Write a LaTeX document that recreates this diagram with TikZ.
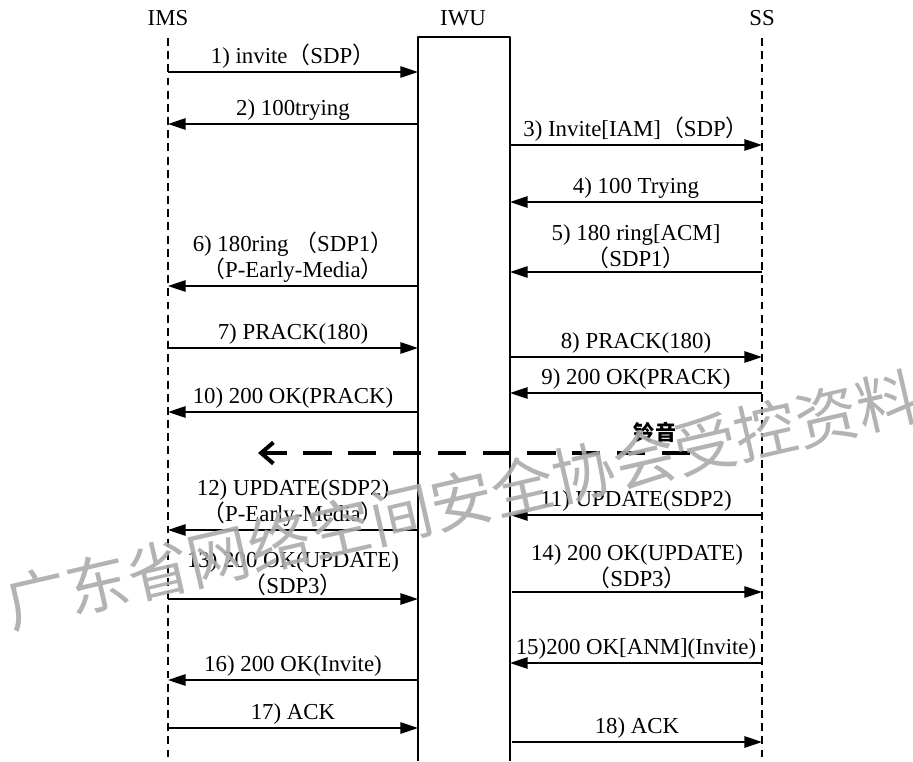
\documentclass[tikz,border=0pt]{standalone}
\usepackage{fontspec}
\setmainfont{Liberation Serif}
\newfontfamily\cjk{Noto Sans CJK SC}
\usetikzlibrary{arrows.meta}
\newcommand{\lp}{{\cjk （}}
\newcommand{\rp}{{\cjk ）}}

\begin{document}
\begin{tikzpicture}[x=0.02cm, y=-0.02cm, line join=round,
    msg/.style={-{Triangle[length=10pt,width=6.5pt]}, line width=0.9pt},
    lifeline/.style={line width=0.7pt, dash pattern=on 4.5pt off 3pt},
    lbl/.style={midway, above, inner sep=1.5pt, align=center, font=\fontsize{13}{15}\selectfont},
    head/.style={font=\fontsize{13}{15}\selectfont},
    ringtone/.style={-{Straight Barb[length=7pt,width=12pt]}, line width=2.3pt, dash pattern=on 16pt off 9.5pt},
    watermark/.style={font=\cjk\fontsize{35.5}{40}\selectfont, text=black!33, rotate=13, opacity=0.9}]
        \useasboundingbox (0,0) rectangle (913,761);
        % lifelines
        \node[head] (ims) at (168,18) {IMS};
        \node[head] (iwu) at (463,18) {IWU};
        \node[head] (ss)  at (762,18) {SS};
        \coordinate (imstop) at (168,38);  \coordinate (imsbot) at (168,761);
        \coordinate (sstop)  at (762,38);  \coordinate (ssbot)  at (762,761);
        \coordinate (iwuA) at (418,37);    \coordinate (iwuB) at (510,37);
        \coordinate (iwuAbot) at (418,761); \coordinate (iwuBbot) at (510,761);
        \draw[lifeline] (imstop) -- (imsbot);
        \draw[lifeline] (sstop) -- (ssbot);
        \draw[line width=0.9pt] (iwuAbot) -- (iwuA) -- (iwuB) -- (iwuBbot);
        % IMS <-> IWU
        \coordinate (a1) at (168,72);  \coordinate (b1) at (418,72);
        \draw[msg] (a1) -- (b1) node[lbl] {1) invite\lp SDP\rp};
        \coordinate (a2) at (168,124); \coordinate (b2) at (418,124);
        \draw[msg] (b2) -- (a2) node[lbl] {2) 100trying};
        \coordinate (a6) at (168,286); \coordinate (b6) at (418,286);
        \draw[msg] (b6) -- (a6) node[lbl] {6) 180ring \lp SDP1\rp\\\lp P-Early-Media\rp};
        \coordinate (a7) at (168,348); \coordinate (b7) at (418,348);
        \draw[msg] (a7) -- (b7) node[lbl] {7) PRACK(180)};
        \coordinate (a10) at (168,412); \coordinate (b10) at (418,412);
        \draw[msg] (b10) -- (a10) node[lbl] {10) 200 OK(PRACK)};
        \coordinate (a12) at (168,530); \coordinate (b12) at (418,530);
        \draw[msg] (b12) -- (a12) node[lbl] {12) UPDATE(SDP2)\\\lp P-Early-Media\rp};
        \coordinate (a13) at (168,599); \coordinate (b13) at (418,599);
        \draw[msg] (a13) -- (b13) node[lbl] {13) 200 OK(UPDATE)\\\lp SDP3\rp};
        \coordinate (a16) at (168,680); \coordinate (b16) at (418,680);
        \draw[msg] (b16) -- (a16) node[lbl] {16) 200 OK(Invite)};
        \coordinate (a17) at (168,728); \coordinate (b17) at (418,728);
        \draw[msg] (a17) -- (b17) node[lbl] {17) ACK};
        % IWU <-> SS
        \coordinate (c3) at (510,145); \coordinate (d3) at (762,145);
        \draw[msg] (c3) -- (d3) node[lbl] {3) Invite[IAM]\lp SDP\rp};
        \coordinate (c4) at (510,202); \coordinate (d4) at (762,202);
        \draw[msg] (d4) -- (c4) node[lbl] {4) 100 Trying};
        \coordinate (c5) at (510,272); \coordinate (d5) at (762,272);
        \draw[msg] (d5) -- (c5) node[lbl] {5) 180 ring[ACM]\\\lp SDP1\rp};
        \coordinate (c8) at (510,357); \coordinate (d8) at (762,357);
        \draw[msg] (c8) -- (d8) node[lbl] {8) PRACK(180)};
        \coordinate (c9) at (510,393); \coordinate (d9) at (762,393);
        \draw[msg] (d9) -- (c9) node[lbl] {9) 200 OK(PRACK)};
        \coordinate (c11) at (510,515); \coordinate (d11) at (762,515);
        \draw[msg] (d11) -- (c11) node[lbl] {11) UPDATE(SDP2)};
        \coordinate (c14) at (512,592); \coordinate (d14) at (762,592);
        \draw[msg] (c14) -- (d14) node[lbl] {14) 200 OK(UPDATE)\\\lp SDP3\rp};
        \coordinate (c15) at (510,663); \coordinate (d15) at (762,663);
        \draw[msg] (d15) -- (c15) node[lbl] {15)200 OK[ANM](Invite)};
        \coordinate (c18) at (512,742); \coordinate (d18) at (762,742);
        \draw[msg] (c18) -- (d18) node[lbl] {18) ACK};
        % ringtone
        \coordinate (rs) at (690,453); \coordinate (re) at (258,453);
        \draw[ringtone] (rs) -- (re);
        \node[font=\cjk\bfseries\fontsize{12}{14}\selectfont] (ring) at (655,432) {铃音};
        \node[watermark] (wm) at (462,500) {广东省网络空间安全协会受控资料};
    \end{tikzpicture}
\end{document}
